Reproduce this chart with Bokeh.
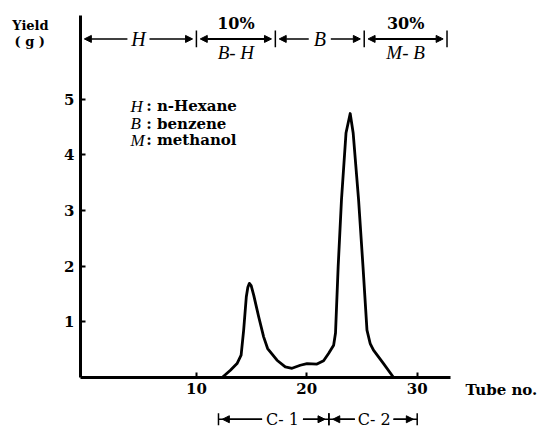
from bokeh.plotting import figure
from bokeh.models import Range1d, Label, Arrow, NormalHead, TeeHead, FixedTicker
from bokeh.core.properties import value
from bokeh.embed import file_html
from bokeh.resources import INLINE

# ---- data ----
tube = [12.33, 13.08, 13.68, 14.05, 14.28, 14.52, 14.66, 14.80, 14.96, 15.19,
        15.64, 16.09, 16.45, 17.30, 18.05, 18.66, 19.41, 20.02, 20.92, 21.52,
        21.97, 22.43, 22.60, 22.84, 23.14, 23.55, 23.93, 24.20, 24.69, 25.09,
        25.45, 25.74, 26.04, 26.95, 27.86]
yield_g = [0.00, 0.13, 0.25, 0.40, 0.85, 1.45, 1.62, 1.69, 1.65, 1.48,
           1.09, 0.73, 0.52, 0.31, 0.19, 0.165, 0.22, 0.25, 0.24, 0.30,
           0.43, 0.58, 0.80, 1.99, 3.19, 4.39, 4.74, 4.39, 3.19, 1.99,
           0.85, 0.61, 0.49, 0.25, 0.00]

x_ticks = [10, 20, 30]
y_ticks = [1, 2, 3, 4, 5]

solvent_bounds = [-0.5, 10.0, 17.15, 25.2, 32.7]
solvent_on_line = ["H", "", "B", ""]
solvent_upper = ["", "10%", "", "30%"]
solvent_lower = ["", "B- H", "", "M- B"]

fraction_bounds = [12.0, 22.0, 30.0]
fraction_names = ["C- 1", "C- 2"]
fraction_label_x = [17.8, 26.1]
fraction_half_width = [1.85, 1.75]

legend_symbols = ["H", "B", "M"]
legend_names = ["n-Hexane", "benzene", "methanol"]

SERIF = "DejaVu Serif"
ITAL = "Liberation Serif"

p = figure(width=543, height=430, output_backend="svg", toolbar_location=None,
           x_range=Range1d(-7.746, 41.44), y_range=Range1d(-0.952, 6.770),
           min_border=0, min_border_left=0, min_border_right=0, min_border_top=0,
           min_border_bottom=0)
p.outline_line_color = None
p.xgrid.visible = False
p.ygrid.visible = False
p.background_fill_color = "white"

for ax in (p.xaxis[0], p.yaxis[0]):
    ax.axis_line_width = 3
    ax.axis_line_color = "black"
    ax.major_tick_in = 5
    ax.major_tick_out = 0
    ax.major_tick_line_width = 2
    ax.minor_tick_line_color = None
    ax.major_label_text_font = SERIF
    ax.major_label_text_font_style = "bold"
    ax.major_label_text_font_size = "15px"
    ax.major_label_text_color = "black"
    ax.major_label_standoff = 6
p.xaxis.ticker = FixedTicker(ticks=x_ticks)
p.yaxis.ticker = FixedTicker(ticks=y_ticks)
p.xaxis.fixed_location = 0
p.yaxis.fixed_location = -0.5
p.xaxis.bounds = (-0.5, 33.0)
p.yaxis.bounds = (0, 6.5)

# curve
p.line(tube, yield_g, line_color="black", line_width=2.8, line_join="round")

# ---- solvent bar at the top ----
ly = 6.08
off = 0.35
gap = 1.0
head = lambda: NormalHead(size=7, fill_color="black", line_color="black")
for i in range(4):
    a, b = solvent_bounds[i], solvent_bounds[i + 1]
    mid = (a + b) / 2
    if solvent_on_line[i]:
        p.add_layout(Arrow(end=head(), x_start=mid - gap, y_start=ly, x_end=a + off, y_end=ly,
                           line_width=1.5))
        p.add_layout(Arrow(end=head(), x_start=mid + gap, y_start=ly, x_end=b - off, y_end=ly,
                           line_width=1.5))
    else:
        p.add_layout(Arrow(start=head(), end=head(), x_start=a + off, y_start=ly,
                           x_end=b - off, y_end=ly, line_width=2))
p.segment(x0=solvent_bounds[1:], y0=[ly - 0.15] * 4, x1=solvent_bounds[1:], y1=[ly + 0.15] * 4,
          line_color="black", line_width=1.5)

mids = [(solvent_bounds[i] + solvent_bounds[i + 1]) / 2 for i in range(4)]
p.text(x=[m for m, t in zip(mids, solvent_on_line) if t], y=[ly] * 2,
       text=[t for t in solvent_on_line if t], text_font=value(ITAL), text_font_style="italic",
       text_font_size="20px", text_align="center", text_baseline="middle", text_color="black")
p.text(x=[m for m, t in zip(mids, solvent_upper) if t], y=[6.36] * 2,
       text=[t for t in solvent_upper if t], text_font=value(SERIF), text_font_style="bold",
       text_font_size="16px", text_align="center", text_baseline="middle", text_color="black")
p.text(x=[m for m, t in zip(mids, solvent_lower) if t], y=[5.84] * 2,
       text=[t for t in solvent_lower if t], text_font=value(ITAL), text_font_style="italic",
       text_font_size="19px", text_align="center", text_baseline="middle", text_color="black")

# ---- legend text ----
leg_y = [4.87, 4.56, 4.26]
p.text(x=[4.03] * 3, y=leg_y, text=legend_symbols, text_font=value(ITAL),
       text_font_style="italic", text_font_size="17px", text_align="left",
       text_baseline="middle", text_color="black")
p.text(x=[5.45] * 3, y=leg_y, text=[": " + n for n in legend_names], text_font=value(SERIF),
       text_font_style="bold", text_font_size="15px", text_align="left",
       text_baseline="middle", text_color="black")

# ---- labels around the axes ----
p.add_layout(Label(x=-5.03, y=6.32, text="Yield", text_font=SERIF, text_font_style="bold",
                   text_font_size="13px", text_align="center", text_baseline="middle",
                   text_color="black"))
p.add_layout(Label(x=-5.1, y=6.03, text="( g )", text_font=SERIF, text_font_style="bold",
                   text_font_size="13px", text_align="center", text_baseline="middle",
                   text_color="black"))
p.add_layout(Label(x=34.37, y=-0.23, text="Tube no.", text_font=SERIF, text_font_style="bold",
                   text_font_size="15px", text_align="left", text_baseline="middle",
                   text_color="black"))

# ---- fraction bar below ----
fy = -0.75
for i in range(2):
    a, b = fraction_bounds[i], fraction_bounds[i + 1]
    cx, hw = fraction_label_x[i], fraction_half_width[i]
    for s, e, o in ((cx - hw, a, off), (cx + hw, b, -off)):
        p.add_layout(Arrow(end=TeeHead(size=12, line_width=1.5), x_start=s, y_start=fy,
                           x_end=e, y_end=fy, line_width=1.5))
        p.add_layout(Arrow(end=head(), x_start=s, y_start=fy, x_end=e + o, y_end=fy,
                           line_width=1.5))
    p.add_layout(Label(x=cx, y=fy, text=fraction_names[i], text_font=SERIF,
                       text_font_size="16px", text_align="center", text_baseline="middle",
                       text_color="black"))

open("out.html", "w").write(file_html(p, INLINE))
